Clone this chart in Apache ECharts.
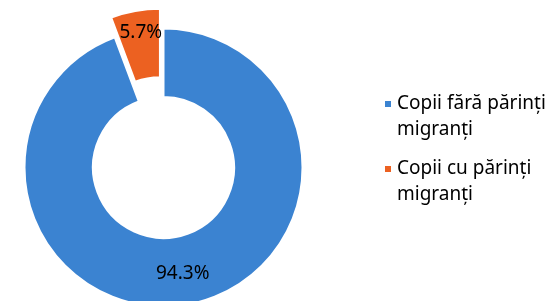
<!DOCTYPE html>
<html>
<head>
<meta charset="utf-8">
<script src="https://cdn.jsdelivr.net/npm/echarts@6/dist/echarts.min.js"></script>
<style>
html,body{margin:0;padding:0;background:#fff;}
#c{width:551px;height:301px;}
</style>
</head>
<body>
<div id="c"></div>
<script>
const categories = ['Copii fără părinți migranți', 'Copii cu părinți migranți'];
const legendLines = ['Copii fără părinți\nmigranți', 'Copii cu părinți\nmigranți'];
const values = [94.3, 5.7];
const colors = ['#3B83D1', '#EC6121'];

const chart = echarts.init(document.getElementById('c'), null, {renderer: 'canvas'});
const FONT = 'Noto Sans';

function legendFor(i, top) {
  return {
    orient: 'vertical',
    left: 383,
    top: top,
    padding: 0,
    icon: 'rect',
    itemWidth: 8,
    itemHeight: 8,
    selectedMode: false,
    data: [categories[i]],
    formatter: function (name) { return ' \n' + legendLines[categories.indexOf(name)]; },
    textStyle: {
      fontFamily: FONT,
      fontSize: 19,
      color: '#000',
      lineHeight: 26
    }
  };
}

chart.setOption({
  animation: false,
  color: colors,
  legend: [legendFor(0, 65), legendFor(1, 130)],
  series: [{
    type: 'pie',
    center: [163.5, 167.5],
    radius: [70.5, 139],
    startAngle: 90,
    clockwise: true,
    selectedMode: 'single',
    selectedOffset: 20,
    avoidLabelOverlap: false,
    itemStyle: { borderColor: '#fff', borderWidth: 2 },
    emphasis: { disabled: true },
    label: {
      show: true,
      position: 'inside',
      fontFamily: FONT,
      fontSize: 19,
      color: '#000',
      formatter: function (p) { return p.value.toFixed(1) + '%'; }
    },
    labelLayout: function (params) {
      return params.dataIndex === 1 ? { dy: -9 } : {};
    },
    labelLine: { show: false },
    data: categories.map(function (c, i) {
      const d = { name: c, value: values[i] };
      if (i === 1) { d.selected = true; }
      return d;
    })
  }]
});
</script>
</body>
</html>
